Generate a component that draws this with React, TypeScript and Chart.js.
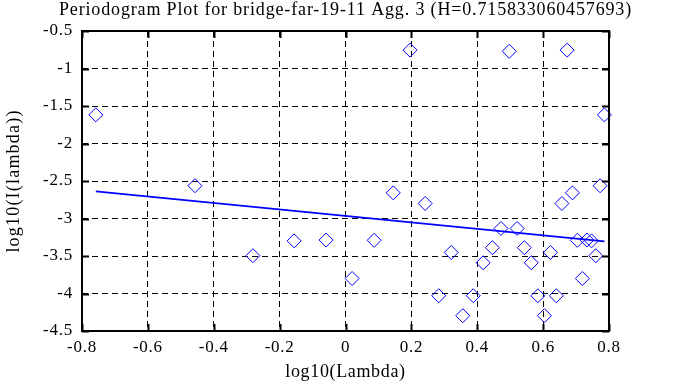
import React, { useEffect, useRef } from "react";
import { Chart, registerables } from "chart.js";

Chart.register(...registerables);

const TITLE = "Periodogram Plot for bridge-far-19-11 Agg. 3 (H=0.715833060457693)";
const X_TITLE = "log10(Lambda)";
const Y_TITLE = "log10(I(lambda))";

const logLambda: number[] = [
  -0.758, -0.457, -0.281, -0.156, -0.059, 0.020, 0.087, 0.145, 0.196, 0.242,
  0.283, 0.321, 0.356, 0.388, 0.418, 0.446, 0.472, 0.497, 0.521, 0.543,
  0.564, 0.584, 0.604, 0.622, 0.640, 0.657, 0.673, 0.689, 0.704, 0.719,
  0.733, 0.747, 0.760, 0.773, 0.786,
];
const logI: number[] = [
  -1.618, -2.563, -3.496, -3.298, -3.287, -3.80, -3.291, -2.658, -0.755, -2.80,
  -4.03, -3.453, -4.296, -4.03, -3.59, -3.389, -3.133, -0.771, -3.133, -3.389,
  -3.59, -4.03, -4.296, -3.453, -4.03, -2.80, -0.755, -2.658, -3.291, -3.80,
  -3.287, -3.298, -3.496, -2.563, -1.618,
];
const fitX: number[] = [-0.758, 0.786];
const fitY: number[] = [-2.638, -3.305];

const xTicks: number[] = [-0.8, -0.6, -0.4, -0.2, 0, 0.2, 0.4, 0.6, 0.8];
const yTicks: number[] = [-0.5, -1, -1.5, -2, -2.5, -3, -3.5, -4, -4.5];

const FONT = "'Liberation Serif', 'Times New Roman', serif";

const fmt = (v: number) => String(Math.round(v * 100) / 100);

const framePlugin = {
  id: "frame",
  beforeDraw(chart: any) {
    (chart.ctx as any).letterSpacing = "0.75px";
  },
  afterDraw(chart: any) {
    const { ctx, chartArea: a, scales } = chart;
    ctx.save();
    ctx.strokeStyle = "#000";
    ctx.lineWidth = 2;
    ctx.setLineDash([]);
    ctx.strokeRect(a.left, a.top, a.right - a.left, a.bottom - a.top);
    const tl = 7;
    ctx.beginPath();
    for (const v of xTicks) {
      const px = Math.round(scales.x.getPixelForValue(v)) + 0.5;
      ctx.moveTo(px, a.bottom);
      ctx.lineTo(px, a.bottom - tl);
      ctx.moveTo(px, a.top);
      ctx.lineTo(px, a.top + tl);
    }
    for (const v of yTicks) {
      const py = Math.round(scales.y.getPixelForValue(v)) + 0.5;
      ctx.moveTo(a.left, py);
      ctx.lineTo(a.left + tl, py);
      ctx.moveTo(a.right, py);
      ctx.lineTo(a.right - tl, py);
    }
    ctx.stroke();
    ctx.fillStyle = "#000";
    ctx.textAlign = "center";
    ctx.textBaseline = "alphabetic";
    ctx.font = `18px ${FONT}`;
    const cx = (a.left + a.right) / 2;
    (ctx as any).letterSpacing = "0.85px";
    ctx.fillText(TITLE, cx, 14.5);
    (ctx as any).letterSpacing = "0.65px";
    ctx.fillText(X_TITLE, cx, 377);
    (ctx as any).letterSpacing = "1.2px";
    ctx.translate(19, (a.top + a.bottom) / 2);
    ctx.rotate(-Math.PI / 2);
    ctx.fillText(Y_TITLE, 0, 0);
    ctx.restore();
  },
};

export default function App() {
  const ref = useRef<HTMLCanvasElement | null>(null);
  useEffect(() => {
    if (!ref.current) return;
    const chart = new Chart(ref.current, {
      type: "scatter",
      data: {
        datasets: [
          {
            type: "line",
            data: fitX.map((x, i) => ({ x, y: fitY[i] })),
            borderColor: "#0000ff",
            borderWidth: 1.7,
            pointRadius: 0,
            fill: false,
            order: 2,
          } as any,
          {
            type: "scatter",
            data: logLambda.map((x, i) => ({ x, y: logI[i] })),
            pointStyle: "rectRot",
            pointRadius: 7,
            pointBorderWidth: 1,
            borderColor: "#0000ff",
            backgroundColor: "rgba(0,0,0,0)",
            pointBackgroundColor: "rgba(0,0,0,0)",
            pointBorderColor: "#0000ff",
            clip: false,
            order: 1,
          } as any,
        ],
      },
      options: {
        animation: false,
        responsive: false,
        devicePixelRatio: 1,
        layout: { padding: { top: 31, right: 74, left: 0, bottom: 0 } },
        plugins: {
          legend: { display: false },
          title: { display: false },
          tooltip: { enabled: false },
        },
        scales: {
          x: {
            type: "linear",
            min: -0.8,
            max: 0.8,
            afterBuildTicks: (s: any) => {
              s.ticks = xTicks.map((v) => ({ value: v }));
            },
            afterFit: (s: any) => {
              s.height = 56;
            },
            border: { display: false, dash: [6, 4] },
            grid: {
              color: "#000",
              lineWidth: 1,
              drawTicks: false,
            },
            ticks: {
              color: "#000",
              font: { family: FONT, size: 17 },
              padding: 6,
              maxRotation: 0,
              autoSkip: false,
              callback: (v: any) => fmt(Number(v)),
            },
          },
          y: {
            type: "linear",
            min: -4.5,
            max: -0.5,
            afterBuildTicks: (s: any) => {
              s.ticks = yTicks.map((v) => ({ value: v }));
            },
            afterFit: (s: any) => {
              s.width = 82;
            },
            border: { display: false, dash: [6, 4] },
            grid: {
              color: "#000",
              lineWidth: 1,
              drawTicks: false,
            },
            ticks: {
              color: "#000",
              font: { family: FONT, size: 17 },
              padding: 9,
              autoSkip: false,
              callback: (v: any) => fmt(Number(v)),
            },
          },
        },
      } as any,
      plugins: [framePlugin],
    });
    return () => chart.destroy();
  }, []);
  return (
    <div style={{ position: "fixed", left: 0, top: 0, width: 683, height: 387, background: "#fff" }}>
      <canvas ref={ref} width={683} height={387} style={{ width: 683, height: 387 }} />
    </div>
  );
}
